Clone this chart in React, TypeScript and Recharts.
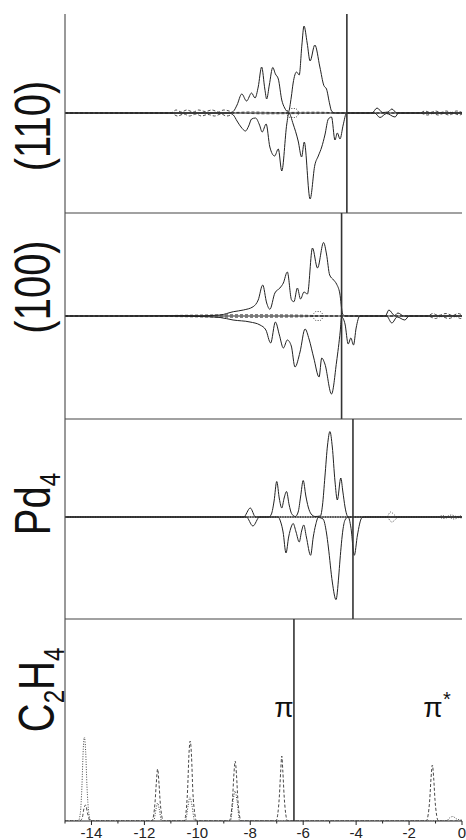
import React from "react";
import { LineChart, Line, XAxis, YAxis, ReferenceLine } from "recharts";

// energy (eV) / DOS pairs
const p110Up = [
  [-15, 0], [-8.8, 0], [-8.64, 0.16], [-8.5, 0.8], [-8.32, 1.9], [-8.14, 1.2], [-7.95, 2.0], [-7.82, 1.5],
  [-7.7, 2.6], [-7.57, 4.6], [-7.45, 2.4], [-7.38, 1.4], [-7.28, 2.8], [-7.15, 4.55], [-7.05, 3.9],
  [-6.94, 3.4], [-6.81, 1.3], [-6.7, 0.5], [-6.56, 0.1], [-6.45, 1.6], [-6.38, 3.0], [-6.25, 4.1],
  [-6.15, 3.8], [-6.05, 6.8], [-5.97, 8.7], [-5.85, 7.0], [-5.74, 5.2], [-5.56, 6.8], [-5.37, 4.6],
  [-5.22, 2.75], [-5.12, 2.4], [-5.0, 0.9], [-4.93, 0.2], [-4.8, 0], [-3.4, 0], [-3.21, 0.5],
  [-3.0, 0.05], [-2.8, 0.1], [-2.65, 0.4], [-2.46, 0], [0, 0],
];
const p110Down = [
  [-15, 0], [-8.8, 0], [-8.64, -0.2], [-8.5, -0.8], [-8.35, -1.4], [-8.18, -1.8], [-8.06, -1.3],
  [-7.95, -0.6], [-7.8, -0.5], [-7.65, -1.2], [-7.55, -1.9], [-7.4, -1.1], [-7.26, -3.4], [-7.08, -4.3],
  [-6.94, -3.6], [-6.81, -5.8], [-6.62, -1.1], [-6.54, 0], [-6.38, -1.1], [-6.19, -2.8], [-6.06, -4.4],
  [-5.96, -2.9], [-5.74, -8.6], [-5.56, -5.2], [-5.43, -4.3], [-5.3, -3.4], [-5.18, -2.2], [-5.05, -0.6],
  [-4.93, -0.4], [-4.8, -2.7], [-4.71, -2.0], [-4.61, -2.6], [-4.49, -1.2], [-4.36, 0], [-3.3, 0],
  [-3.1, -0.45], [-2.85, -0.05], [-2.53, -0.4], [-2.4, 0], [0, 0],
];
const p110DashUp = [
  [-15, 0], [-11, 0], [-10.8, 0.3], [-10.6, 0.1], [-10.4, 0.3], [-10.15, 0.1], [-9.95, 0.3], [-9.7, 0.15],
  [-9.45, 0.3], [-9.2, 0.1], [-9.0, 0.3], [-8.8, 0.2], [-8.65, 0.05], [-8.0, 0.1], [-7.0, 0.05],
  [-5.5, 0.08], [-4.4, 0], [-1.6, 0], [-1.4, 0.2], [-1.2, 0.05], [-1.0, 0.2], [-0.8, 0.05], [-0.6, 0.2],
  [-0.4, 0.05], [-0.2, 0.2], [0, 0.05],
];
const p110DashDown = [
  [-15, 0], [-11, 0], [-10.75, -0.3], [-10.5, -0.1], [-10.3, -0.3], [-10.05, -0.1], [-9.85, -0.3],
  [-9.6, -0.15], [-9.35, -0.3], [-9.1, -0.1], [-8.9, -0.3], [-8.7, -0.15], [-8.6, 0], [-7.5, -0.08],
  [-6.0, -0.05], [-4.4, 0], [-1.6, 0], [-1.3, -0.2], [-1.1, -0.05], [-0.9, -0.2], [-0.7, -0.05],
  [-0.5, -0.2], [-0.3, -0.05], [-0.1, -0.2], [0, -0.1],
];
const p110DotUp = [[-6.65, 0], [-6.5, 0.45], [-6.3, 0.45], [-6.15, 0]];
const p110DotDown = [[-6.65, 0], [-6.5, -0.45], [-6.3, -0.45], [-6.15, 0]];

const p100Up = [
  [-15, 0], [-12.5, 0], [-10.5, 0.05], [-9.9, 0.02], [-9.14, 0.1], [-8.64, 0.43], [-8.26, 0.6],
  [-7.89, 0.93], [-7.7, 1.6], [-7.53, 3.1], [-7.38, 1.3], [-7.26, 0.67], [-7.07, 2.3], [-6.88, 2.8],
  [-6.75, 3.3], [-6.6, 4.4], [-6.44, 1.6], [-6.35, 1.43], [-6.22, 2.8], [-6.1, 1.7], [-5.97, 2.4],
  [-5.84, 2.2], [-5.65, 6.8], [-5.46, 4.8], [-5.23, 7.35], [-5.12, 6.2], [-5.0, 4.1], [-4.85, 3.6],
  [-4.74, 3.2], [-4.62, 2.3], [-4.51, 0.2], [-4.42, 0], [-2.9, 0], [-2.76, 0.6], [-2.55, 0.05],
  [-2.42, 0.3], [-2.2, 0], [0, 0],
];
const p100Down = [
  [-15, 0], [-12.5, 0], [-9.9, -0.05], [-9.14, -0.15], [-8.65, -0.4], [-8.01, -0.6], [-7.63, -0.9],
  [-7.41, -1.4], [-7.23, -2.7], [-7.05, -0.6], [-6.9, -1.9], [-6.75, -3.2], [-6.6, -2.4], [-6.45, -3.0],
  [-6.31, -5.1], [-6.12, -3.6], [-5.93, -1.3], [-5.78, -2.3], [-5.6, -4.2], [-5.4, -6.1], [-5.3, -4.2],
  [-5.18, -4.8], [-4.93, -7.8], [-4.74, -4.6], [-4.6, -1.5], [-4.55, -0.1], [-4.42, -0.8], [-4.3, -2.8],
  [-4.2, -2.2], [-4.1, -2.9], [-4.0, -1.2], [-3.86, 0], [-2.85, 0], [-2.65, -0.7], [-2.45, -0.1],
  [-2.16, -0.4], [-2.0, 0], [0, 0],
];
const p100DashUp = [
  [-15, 0], [-12.4, 0], [-11, 0.05], [-9.5, 0.1], [-8, 0.12], [-6.5, 0.1], [-4.55, 0], [-1.3, 0],
  [-1.1, 0.25], [-0.9, 0.05], [-0.6, 0.25], [-0.35, 0.05], [-0.15, 0.25], [0, 0.1],
];
const p100DashDown = [
  [-15, 0], [-12.4, 0], [-11, -0.05], [-9.5, -0.1], [-8, -0.12], [-6.5, -0.1], [-4.55, 0], [-1.3, 0],
  [-1.0, -0.25], [-0.8, -0.05], [-0.5, -0.25], [-0.25, -0.05], [-0.05, -0.25], [0, -0.2],
];
const p100DotUp = [[-5.65, 0], [-5.52, 0.45], [-5.36, 0.45], [-5.23, 0]];
const p100DotDown = [[-5.65, 0], [-5.52, -0.45], [-5.36, -0.45], [-5.23, 0]];

const pd4Up = [
  [-15, 0], [-8.25, 0], [-8.0, 0.9], [-7.8, 0], [-7.3, 0], [-7.2, 0.3], [-7.1, 1.6], [-7.0, 3.55],
  [-6.9, 1.8], [-6.81, 0.9], [-6.72, 1.9], [-6.63, 2.55], [-6.53, 1.2], [-6.44, 0.35], [-6.3, 0.05],
  [-6.19, 0.5], [-6.1, 2.0], [-6.0, 3.65], [-5.9, 2.1], [-5.81, 1.0], [-5.7, 0.3], [-5.55, 0.05],
  [-5.35, 0.1], [-5.27, 1.2], [-5.18, 4.0], [-5.08, 7.2], [-4.99, 8.55], [-4.9, 7.0], [-4.8, 3.6],
  [-4.71, 1.7], [-4.58, 3.9], [-4.5, 2.5], [-4.42, 1.0], [-4.3, 0], [0, 0],
];
const pd4Down = [
  [-15, 0], [-8.15, 0], [-7.9, -0.9], [-7.65, 0], [-6.95, 0], [-6.85, -0.5], [-6.76, -1.5], [-6.65, -3.6],
  [-6.55, -2.0], [-6.44, -0.9], [-6.38, -0.65], [-6.27, -1.5], [-6.15, -2.5], [-6.06, -1.4], [-5.98, -0.8],
  [-5.88, -2.0], [-5.72, -3.83], [-5.62, -2.0], [-5.53, -0.8], [-5.43, -0.05], [-5.25, -0.2],
  [-5.12, -1.6], [-5.05, -3.0], [-4.9, -6.5], [-4.76, -8.27], [-4.66, -6.0], [-4.61, -4.3], [-4.5, -1.3],
  [-4.42, -0.3], [-4.3, 0], [-4.2, -1.0], [-4.07, -3.83], [-3.95, -1.8], [-3.79, -0.1], [-3.7, 0], [0, 0],
];
const pd4DotUp = [
  [-15, 0], [-2.85, 0], [-2.7, 0.5], [-2.55, 0.2], [-2.45, 0], [-0.9, 0], [-0.75, 0.15], [-0.6, 0.05],
  [-0.4, 0.2], [-0.2, 0.05], [0, 0.15],
];
const pd4DotDown = [
  [-15, 0], [-2.85, 0], [-2.65, -0.5], [-2.5, -0.2], [-2.4, 0], [-0.9, 0], [-0.7, -0.15], [-0.5, -0.05],
  [-0.3, -0.2], [-0.1, -0.05], [0, -0.15],
];

const c2h4Dash = [
  [-15, 0], [-14.45, 0], [-14.35, 0.3], [-14.28, 1.3], [-14.22, 1.6], [-14.15, 0.8], [-14.05, 0],
  [-11.72, 0], [-11.65, 0.6], [-11.6, 1.8], [-11.55, 3.8], [-11.5, 5.2], [-11.45, 3.8], [-11.4, 1.8],
  [-11.35, 0.6], [-11.28, 0], [-10.5, 0], [-10.43, 0.8], [-10.37, 3.0], [-10.31, 7.0], [-10.27, 8.0],
  [-10.22, 6.5], [-10.17, 3.0], [-10.1, 0.8], [-10.03, 0], [-8.8, 0], [-8.73, 0.6], [-8.67, 2.2],
  [-8.62, 4.6], [-8.57, 6.0], [-8.52, 4.6], [-8.47, 2.2], [-8.41, 0.6], [-8.34, 0], [-7.03, 0],
  [-6.96, 0.7], [-6.9, 2.5], [-6.85, 5.0], [-6.81, 6.5], [-6.77, 5.0], [-6.72, 2.5], [-6.66, 0.7],
  [-6.59, 0], [-1.35, 0], [-1.28, 0.6], [-1.22, 2.1], [-1.17, 4.3], [-1.12, 5.6], [-1.07, 4.3],
  [-1.02, 2.1], [-0.96, 0.6], [-0.89, 0], [0, 0],
];
const c2h4Dot = [
  [-15, 0], [-14.5, 0], [-14.42, 0.8], [-14.36, 3.5], [-14.31, 7.2], [-14.27, 8.4], [-14.22, 7.0],
  [-14.17, 3.5], [-14.1, 0.8], [-14.02, 0], [-11.65, 0], [-11.56, 1.2], [-11.5, 1.8], [-11.44, 1.2],
  [-11.35, 0], [-10.45, 0], [-10.35, 1.5], [-10.28, 2.4], [-10.2, 1.5], [-10.1, 0], [-8.75, 0],
  [-8.65, 2.0], [-8.57, 3.0], [-8.5, 2.0], [-8.4, 0], [-0.6, 0], [-0.45, 0.35], [-0.35, 0.45],
  [-0.2, 0.2], [0, 0.1],
];

const xTicks = [-15, -14, -13, -12, -11, -10, -9, -8, -7, -6, -5, -4, -3, -2, -1, 0];
const fermi110 = -4.35;
const fermi100 = -4.55;
const fermiPd4 = -4.12;
const piLevel = -6.35;

const toPts = (arr: number[][]) => arr.map(([e, v]) => ({ e, v }));

const FONT = "'Liberation Sans', Arial, Helvetica, sans-serif";
const INK = "#222";

type Series = { data: number[][]; style: "solid" | "dash" | "dot" };

const XTick = (props: any) => {
  const { x, y, payload } = props;
  const major = payload.value % 2 === 0;
  return (
    <g>
      <line x1={x} x2={x} y1={y} y2={y + (major ? 4 : 2.5)} stroke={INK} strokeWidth={1} />
      {major && (
        <text x={x} y={y + 17} textAnchor="middle" fontSize={15} fontFamily={FONT} fill={INK}>
          {payload.value}
        </text>
      )}
    </g>
  );
};

function Panel(props: {
  top: number;
  h: number;
  domain: [number, number];
  fermi: number;
  series: Series[];
  axis?: boolean;
  zero?: boolean;
}) {
  const { top, h, domain, fermi, series, axis, zero } = props;
  const axisH = axis ? 19 : 0;
  return (
    <div style={{ position: "absolute", left: 0, top: top - 2 }}>
      <LineChart
        width={466}
        height={h + 4 + axisH - (axis ? 2 : 0)}
        margin={{ top: 2, right: 4, bottom: axis ? 0 : 2, left: 65 }}
      >
        <XAxis
          type="number"
          dataKey="e"
          domain={[-15, 0]}
          allowDataOverflow
          ticks={xTicks}
          hide={!axis}
          height={axisH}
          interval={0}
          tickSize={0}
          tickMargin={0}
          tickLine={false}
          tick={<XTick />}
          axisLine={{ stroke: INK, strokeWidth: 1.2 }}
        />
        <YAxis type="number" domain={domain} allowDataOverflow hide />
        {zero && <ReferenceLine y={0} stroke={INK} strokeWidth={1} />}
        {series.map((s, i) => (
          <Line
            key={i}
            data={toPts(s.data)}
            dataKey="v"
            type="monotone"
            dot={false}
            activeDot={false}
            stroke={s.style === "solid" ? INK : "#333"}
            strokeWidth={s.style === "solid" ? 1 : 0.9}
            strokeDasharray={s.style === "dash" ? "3 2" : s.style === "dot" ? "1 1.5" : undefined}
            isAnimationActive={false}
          />
        ))}
        <ReferenceLine x={fermi} stroke="#333" strokeWidth={1.6} />
        <ReferenceLine x={-15} stroke="#555" strokeWidth={1.2} />
        {!axis && <ReferenceLine y={domain[0]} stroke="#444" strokeWidth={1.2} />}
      </LineChart>
    </div>
  );
}

function SideLabel(props: { x: number; y: number; size?: number; sx?: number; children: React.ReactNode }) {
  const size = props.size ?? 50;
  const sx = props.sx ?? 0.8;
  return (
    <text
      transform={`translate(${props.x},${props.y}) rotate(-90) scale(${sx},1)`}
      textAnchor="middle"
      fontSize={size}
      fontFamily={FONT}
      fill="#111"
    >
      {props.children}
    </text>
  );
}

export default function App() {
  return (
    <div style={{ position: "absolute", left: 0, top: 0, width: 466, height: 840, background: "#fff", overflow: "hidden" }}>
      <Panel
        top={14}
        h={199}
        domain={[-10, 9.9]}
        fermi={fermi110}
        zero
        series={[
          { data: p110DashUp, style: "dash" },
          { data: p110DashDown, style: "dash" },
          { data: p110DotUp, style: "dot" },
          { data: p110DotDown, style: "dot" },
          { data: p110Up, style: "solid" },
          { data: p110Down, style: "solid" },
        ]}
      />
      <Panel
        top={213}
        h={206}
        domain={[-10.3, 10.3]}
        fermi={fermi100}
        zero
        series={[
          { data: p100DashUp, style: "dash" },
          { data: p100DashDown, style: "dash" },
          { data: p100DotUp, style: "dot" },
          { data: p100DotDown, style: "dot" },
          { data: p100Up, style: "solid" },
          { data: p100Down, style: "solid" },
        ]}
      />
      <Panel
        top={419}
        h={200}
        domain={[-10.2, 9.8]}
        fermi={fermiPd4}
        zero
        series={[
          { data: pd4DotUp, style: "dot" },
          { data: pd4DotDown, style: "dot" },
          { data: pd4Up, style: "solid" },
          { data: pd4Down, style: "solid" },
        ]}
      />
      <Panel
        top={619}
        h={202}
        domain={[0, 20.2]}
        fermi={piLevel}
        axis
        series={[
          { data: c2h4Dot, style: "dot" },
          { data: c2h4Dash, style: "dash" },
        ]}
      />
      <svg width={466} height={840} style={{ position: "absolute", left: 0, top: 0, pointerEvents: "none" }}>
        <SideLabel x={50} y={126}>(110)</SideLabel>
        <SideLabel x={50} y={287}>(100)</SideLabel>
        <SideLabel x={50} y={504}>
          <tspan>Pd</tspan>
          <tspan fontSize={30} dy={10}>4</tspan>
        </SideLabel>
        <SideLabel x={54} y={690}>
          <tspan>C</tspan>
          <tspan fontSize={30} dy={10}>2</tspan>
          <tspan dy={-10}>H</tspan>
          <tspan fontSize={30} dy={10}>4</tspan>
        </SideLabel>
        <text x={284} y={717} textAnchor="middle" fontSize={28} fontFamily={FONT} fill="#111">π</text>
        <text x={433} y={717} textAnchor="middle" fontSize={28} fontFamily={FONT} fill="#111">π</text>
        <text x={447} y={706} textAnchor="middle" fontSize={20} fontFamily={FONT} fill="#111">*</text>
      </svg>
    </div>
  );
}
